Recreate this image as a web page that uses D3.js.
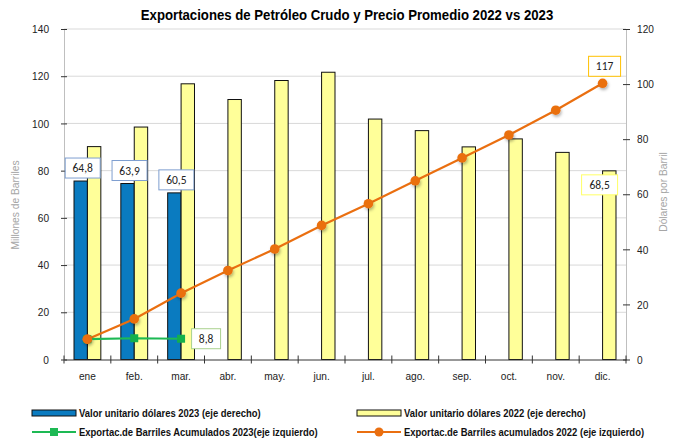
<!DOCTYPE html>
<html>
<head>
<meta charset="utf-8">
<script src="https://cdn.jsdelivr.net/npm/d3@7"></script>
<style>
	body { margin: 0; background: #fff; }
	svg text { font-family: "Liberation Sans Narrow", "Arial Narrow", "Liberation Sans", Arial, sans-serif; }
	.lbl text { font-family: Carlito, "Open Sans", "Liberation Sans", sans-serif; font-size: 11.5px; }
</style>
</head>
<body>
<svg id="chart" width="678" height="444"></svg>
<script>
"use strict";

var months = ['ene', 'feb.', 'mar.', 'abr.', 'may.', 'jun.', 'jul.', 'ago.', 'sep.', 'oct.', 'nov.', 'dic.'];
var precio2023 = [64.8, 63.9, 60.5];
var precio2022 = [77.3, 84.4, 100.1, 94.4, 101.3, 104.3, 87.3, 83.1, 77.2, 80.1, 75.2, 68.5];
var acum2023 = [8.6, 9.0, 8.8];
var acum2022 = [8.6, 17.2, 28.1, 37.7, 46.8, 56.8, 66.0, 75.7, 85.4, 95.1, 105.6, 117.0];
var leftTicks = [0, 20, 40, 60, 80, 100, 120, 140];
var rightTicks = [0, 20, 40, 60, 80, 100, 120];

var svg = d3.select('#chart');
var plotL = 64, plotR = 626, plotT = 29, plotB = 359.5;

var x = d3.scaleBand().domain(months).range([plotL, plotR]);
var xs = d3.scaleBand().domain(['a', 'b']).range([0, x.bandwidth()]).paddingOuter(0.746);
var yL = d3.scaleLinear().domain([0, 140]).range([plotB, plotT]);
var yR = d3.scaleLinear().domain([0, 120]).range([plotB, plotT]);
var cx = function(i) { return x(months[i]) + x.bandwidth() / 2; };

// no narrow font installed: squeeze the text like Arial Narrow
function narrow(sel, k) {
	sel.each(function() {
		var w = this.getComputedTextLength();
		d3.select(this).attr('textLength', w * k).attr('lengthAdjust', 'spacingAndGlyphs');
	});
}

// shadow for the line markers
var defs = svg.append('defs');
defs.append('filter').attr('id', 'shd').attr('x', '-50%').attr('y', '-50%').
	attr('width', '200%').attr('height', '200%').
	append('feDropShadow').attr('dx', 1).attr('dy', 2).attr('stdDeviation', 1.5).
	attr('flood-color', '#000').attr('flood-opacity', 0.3);

// Title
svg.append('text').attr('transform', 'translate(347,20) scale(0.88,1)').attr('text-anchor', 'middle').
	style('font-size', '15px').style('font-weight', 'bold').
	text('Exportaciones de Petróleo Crudo y Precio Promedio 2022 vs 2023');

// Gridlines
svg.append('g').selectAll('line').data(leftTicks.slice(1)).join('line').
	attr('x1', plotL).attr('x2', plotR).attr('y1', yL).attr('y2', yL).
	attr('stroke', '#d9d9d9').attr('stroke-width', 1);

// Bars
svg.append('g').selectAll('rect').data(precio2023).join('rect').
	attr('x', function(d, i) { return x(months[i]) + xs('a'); }).
	attr('y', function(d) { return yR(d); }).
	attr('width', xs.bandwidth()).attr('height', function(d) { return plotB - yR(d); }).
	attr('fill', '#0a7bc0').attr('stroke', '#111').attr('stroke-width', 1);
svg.append('g').selectAll('rect').data(precio2022).join('rect').
	attr('x', function(d, i) { return x(months[i]) + xs('b'); }).
	attr('y', function(d) { return yR(d); }).
	attr('width', xs.bandwidth()).attr('height', function(d) { return plotB - yR(d); }).
	attr('fill', '#ffff99').attr('stroke', '#111').attr('stroke-width', 1);

// Axes
var axL = svg.append('g').attr('transform', 'translate(' + plotL + ',0)').
	call(d3.axisLeft(yL).tickValues(leftTicks).tickSizeInner(3).tickSizeOuter(0).tickPadding(12));
axL.selectAll('.tick line').attr('x2', 3).attr('x1', -3).attr('stroke', '#333');
axL.select('.domain').attr('stroke', '#bfbfbf');

var axR = svg.append('g').attr('transform', 'translate(' + plotR + ',0)').
	call(d3.axisRight(yR).tickValues(rightTicks).tickSizeInner(3).tickSizeOuter(0).tickPadding(8));
axR.selectAll('.tick line').attr('x2', 4).attr('x1', -3).attr('stroke', '#333');
axR.select('.domain').attr('stroke', '#bfbfbf');

var axB = svg.append('g').attr('transform', 'translate(0,' + plotB + ')').
	call(d3.axisBottom(x).tickSize(0).tickPadding(12));
axB.select('.domain').attr('stroke', '#333');
axB.selectAll('.tk').data(d3.range(months.length + 1)).join('line').attr('class', 'tk').
	attr('x1', function(d) { return plotL + d * x.step(); }).
	attr('x2', function(d) { return plotL + d * x.step(); }).
	attr('y1', -4).attr('y2', 4).attr('stroke', '#333');

[axL, axR, axB].forEach(function(a) {
	a.selectAll('.tick text').style('font-size', '11.5px').attr('fill', '#222').
		style('font-family', '"Liberation Sans Narrow", "Arial Narrow", "Liberation Sans", sans-serif').
		call(narrow, 0.88);
});

// Axis titles
svg.append('text').attr('transform', 'translate(19,205) rotate(-90) scale(0.93,1)').attr('text-anchor', 'middle').
	style('font-size', '11px').attr('fill', '#a6a6a6').text('Millones de Barriles');
svg.append('text').attr('transform', 'translate(667,192) rotate(-90) scale(0.93,1)').attr('text-anchor', 'middle').
	style('font-size', '11px').attr('fill', '#a6a6a6').text('Dólares por Barril');

// Lines
var line = d3.line().x(function(d, i) { return cx(i); }).y(function(d) { return yL(d); });
svg.append('path').datum(acum2022).attr('d', line).attr('fill', 'none').
	attr('stroke', '#ea6f10').attr('stroke-width', 2.2);
svg.append('g').selectAll('circle').data(acum2022).join('circle').
	attr('cx', function(d, i) { return cx(i); }).attr('cy', yL).attr('r', 4.8).
	attr('fill', '#ea6f10').attr('filter', 'url(#shd)');

svg.append('path').datum(acum2023).attr('d', line).attr('fill', 'none').
	attr('stroke', '#1db954').attr('stroke-width', 2.2);
svg.append('g').selectAll('rect').data(acum2023).join('rect').
	attr('x', function(d, i) { return cx(i) - 4; }).attr('y', function(d) { return yL(d) - 4; }).
	attr('width', 8).attr('height', 8).attr('fill', '#14b04c');
// orange jan marker sits over the green one
svg.append('circle').attr('cx', cx(0)).attr('cy', yL(acum2022[0])).attr('r', 4.8).
	attr('fill', '#ea6f10');

// Data labels
function drawLabel(px, py, w, txt, col) {
	var g = svg.append('g').attr('class', 'lbl');
	g.append('rect').attr('x', px - w / 2).attr('y', py - 10).attr('width', w).attr('height', 20).
		attr('fill', '#fff').attr('stroke', col).attr('stroke-width', 1);
	g.append('text').attr('x', px).attr('y', py + 4).attr('text-anchor', 'middle').
		attr('fill', '#222').text(txt);
}
precio2023.forEach(function(d, i) {
	drawLabel(x(months[i]) + xs('a') + xs.bandwidth() / 2 + 2, yR(d) - 13, 35,
		String(d).replace('.', ','), '#7f9fd0');
});
drawLabel(cx(2) + 25, yL(acum2023[2]), 29, String(acum2023[2]).replace('.', ','), '#a9d18e');
drawLabel(cx(11) + 2, yL(acum2022[11]) - 17, 32, String(Math.round(acum2022[11])), '#ffc000');
drawLabel(x(months[11]) + xs('b') - 3, yR(precio2022[11]) + 14, 36,
	String(precio2022[11]).replace('.', ','), '#ffff66');

// Legend
var legend = svg.append('g').style('font-size', '11px').style('font-weight', 'bold');
var items = [
	{ x: 32, y: 413, t: 'Valor unitario dólares 2023 (eje derecho)', k: 'bar', c: '#0a7bc0' },
	{ x: 357, y: 413, t: 'Valor unitario dólares 2022 (eje derecho)', k: 'bar', c: '#ffff99' },
	{ x: 32, y: 432, t: 'Exportac.de Barriles Acumulados 2023(eje izquierdo)', k: 'sq', c: '#1db954' },
	{ x: 357, y: 432, t: 'Exportac.de Barriles acumulados 2022 (eje izquierdo)', k: 'dot', c: '#ea6f10' }
];
items.forEach(function(it) {
	var g = legend.append('g').attr('transform', 'translate(' + it.x + ',' + it.y + ')');
	if (it.k == 'bar') {
		g.append('rect').attr('x', 0).attr('y', -3).attr('width', 44).attr('height', 6).
			attr('fill', it.c).attr('stroke', '#111').attr('stroke-width', 1);
	} else {
		g.append('line').attr('x1', 0).attr('x2', 44).attr('stroke', it.c).attr('stroke-width', 2.2);
		if (it.k == 'sq') g.append('rect').attr('x', 18).attr('y', -4).attr('width', 8).attr('height', 8).attr('fill', it.c);
		else g.append('circle').attr('cx', 22).attr('r', 4.5).attr('fill', it.c);
	}
	g.append('text').attr('transform', 'translate(47,4) scale(0.86,1)').attr('fill', '#111').text(it.t);
});
</script>
</body>
</html>
